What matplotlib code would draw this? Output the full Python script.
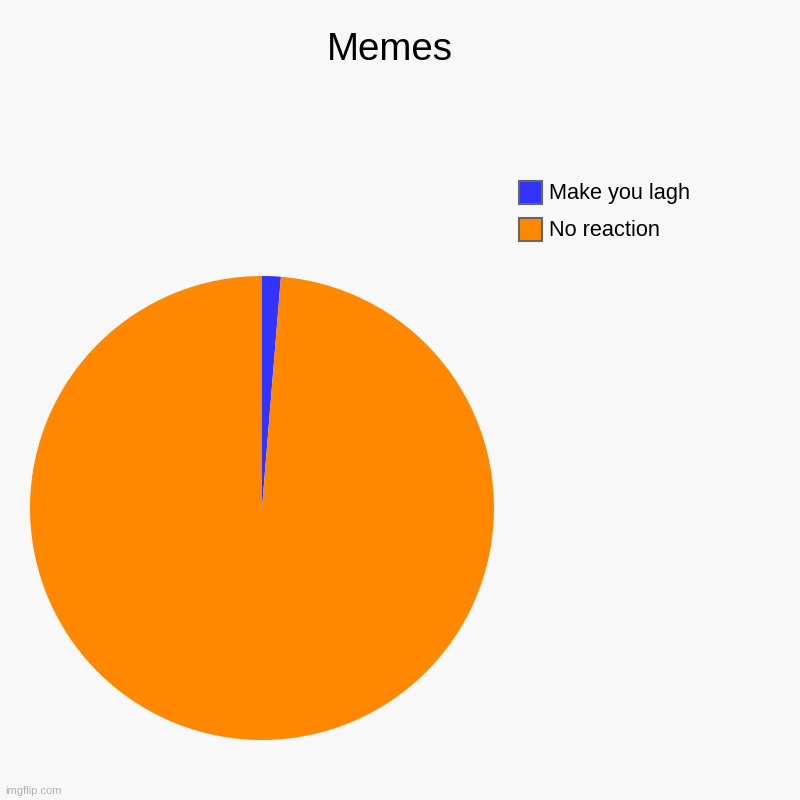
import matplotlib
matplotlib.use("Agg")
import matplotlib.pyplot as plt
from matplotlib.patches import Rectangle

plt.rcParams['font.family'] = ['Liberation Sans', 'DejaVu Sans']

title = "Memes"
labels = ["Make you lagh", "No reaction"]
values = [1.3, 98.7]
colors = ["#3333ff", "#ff8800"]

fig = plt.figure(figsize=(8, 8), dpi=100, facecolor="#f8f8f8")
ax = fig.add_axes([0.0375, 0.075, 0.58, 0.58])
ax.set_facecolor("#f8f8f8")
ax.pie(values, colors=colors, startangle=90, counterclock=False, radius=1,
       wedgeprops=dict(linewidth=0))
ax.set_xlim(-1, 1)
ax.set_ylim(-1, 1)
ax.set_aspect("equal")
ax.axis("off")

fig.text(0.4875, 1 - 50 / 800, title, ha="center", va="center", fontsize=27.7, color="black")

# legend
for i, (lab, col) in enumerate(zip(labels, colors)):
    y_top = 181 + i * 37
    fig.patches.append(Rectangle((519 / 800, 1 - (y_top + 23) / 800), 23 / 800, 23 / 800,
                                 transform=fig.transFigure, facecolor=col,
                                 edgecolor="#666666", linewidth=1.5))
    fig.text(549 / 800, 1 - (y_top + 13) / 800, lab, ha="left", va="center",
             fontsize=15.7, color="black")

fig.text(5 / 800, 1 - 791 / 800, "imgflip.com", ha="left", va="center",
         fontsize=8, color="#b0b0b0")

fig.savefig("out.png", dpi=100, facecolor=fig.get_facecolor())
